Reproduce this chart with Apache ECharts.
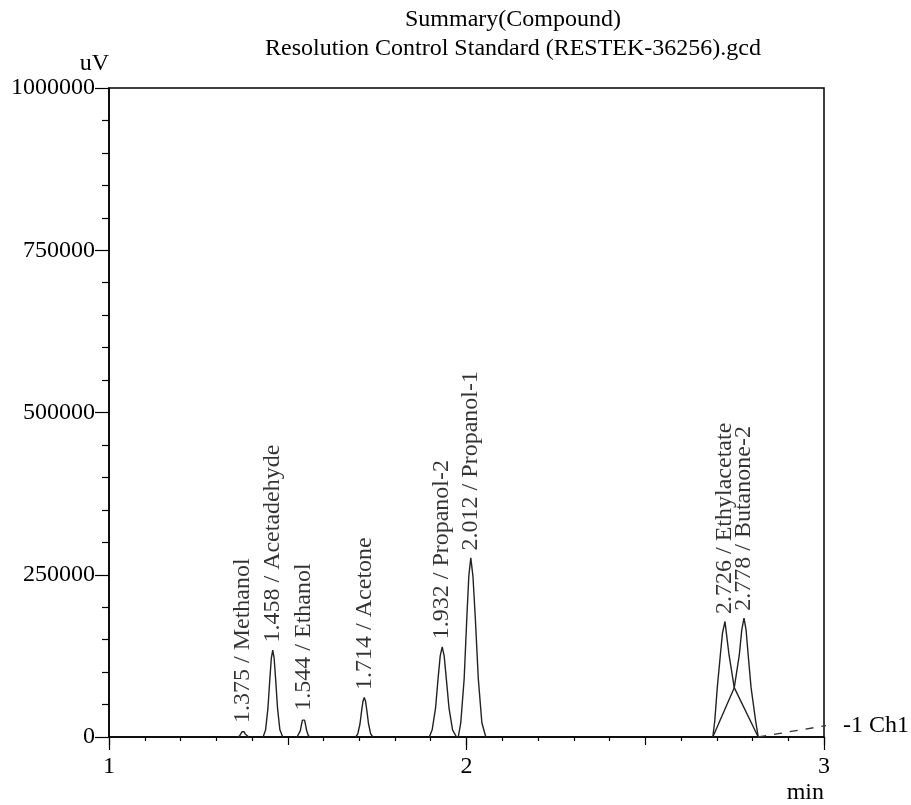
<!DOCTYPE html>
<html>
<head>
<meta charset="utf-8">
<script src="https://cdn.jsdelivr.net/npm/echarts@6/dist/echarts.min.js"></script>
<style>html,body{margin:0;padding:0;background:#fff}#c{width:911px;height:805px}</style>
</head>
<body>
<div id="c"></div>
<script>
// ---- data ----
const titleLines = ['Summary(Compound)', 'Resolution Control Standard (RESTEK-36256).gcd'];
const yTicks = [0, 250000, 500000, 750000, 1000000];
const xTicks = [1, 2, 3];

const peakTimes   = [1.375, 1.458, 1.544, 1.714, 1.932, 2.012, 2.7231, 2.7762];
const peakHeights = [10000, 134000, 29000, 61000, 139000, 276000, 178000, 183000];
const peakNames   = ['1.375 / Methanol', '1.458 / Acetadehyde', '1.544 / Ethanol', '1.714 / Acetone',
                     '1.932 / Propanol-2', '2.012 / Propanol-1', '2.726 / Ethylacetate', '2.778 / Butanone-2'];

const methanol = [[1.359,0],[1.365,1500],[1.369,4500],[1.372,8000],[1.375,10000],[1.378,8000],[1.381,4500],[1.385,1500],[1.391,0]];
const acetaldehyde = [[1.431,0],[1.438,11000],[1.4445,44000],[1.450,90000],[1.454,121000],[1.458,134000],[1.462,121000],[1.466,90000],[1.4715,44000],[1.478,11000],[1.486,0]];
const ethanol = [[1.526,0],[1.5305,2300],[1.535,9500],[1.5385,19500],[1.541,26000],[1.544,29000],[1.547,26000],[1.5495,19500],[1.553,9500],[1.5575,2300],[1.562,0]];
const acetone = [[1.690,0],[1.696,4900],[1.702,20000],[1.7068,41000],[1.7104,55000],[1.714,61000],[1.7176,55000],[1.7212,41000],[1.726,20000],[1.732,4900],[1.738,0]];
const propanol2 = [[1.896,0],[1.904,11000],[1.9135,45000],[1.921,93000],[1.9265,125000],[1.932,139000],[1.9375,125000],[1.943,93000],[1.951,45000],[1.961,11000],[1.972,0]];
const propanol1 = [[1.977,0],[1.984,22000],[1.9935,90000],[2.001,185000],[2.0065,248000],[2.012,276000],[2.018,248000],[2.0245,185000],[2.033,90000],[2.043,22000],[2.054,0]];
const ethylacetate = [[2.689,0],[2.6945,25000],[2.7015,76000],[2.710,126000],[2.716,160000],[2.7231,178000],[2.728,155000],[2.7345,126000],[2.749,76000],[2.816,0]];
const butanone = [[2.689,0],[2.749,76000],[2.763,126000],[2.770,165000],[2.7762,183000],[2.782,165000],[2.788,126000],[2.796,76000],[2.809,24000],[2.816,0]];
const channelLine = [[2.816,0],[3.022,19000]];
const channelName = '-1 Ch1';

// ---- chart ----
const FONT = 'Liberation Serif';
const traces = [methanol, acetaldehyde, ethanol, acetone, propanol2, propanol1, ethylacetate, butanone];
const series = traces.map(d => ({
  type: 'line', data: d, xAxisIndex: 0, yAxisIndex: 0, symbol: 'none', silent: true,
  lineStyle: { color: '#222', width: 1.4 }, z: 3
}));
series.push({
  type: 'line', data: channelLine, symbol: 'none', clip: false, silent: true,
  lineStyle: { color: '#333', width: 1.3, type: [8, 8] },
  endLabel: { show: true, formatter: channelName, distance: 17, fontFamily: FONT, fontSize: 24, color: '#000' }
});
series.push({
  type: 'scatter', symbolSize: 1, itemStyle: { color: 'rgba(0,0,0,0)' }, silent: true,
  data: peakTimes.map((t, i) => ({ value: [t, peakHeights[i]], name: peakNames[i] })),
  label: {
    show: true, formatter: p => p.name, position: 'top', distance: 7, rotate: 90,
    align: 'left', verticalAlign: 'middle', fontFamily: FONT, fontSize: 24, color: '#000'
  },
  labelLayout: { hideOverlap: false }, z: 5
});

const chart = echarts.init(document.getElementById('c'), null, { renderer: 'canvas' });
chart.setOption({
  animation: false,
  backgroundColor: '#fff',
  title: {
    text: titleLines.join('\n'), left: 508, top: 0, textAlign: 'center',
    textStyle: { fontFamily: FONT, fontSize: 24, fontWeight: 'normal', color: '#000', lineHeight: 29 }
  },
  grid: { left: 109, right: 87, top: 88, bottom: 66, show: true, borderColor: '#000', borderWidth: 1.5 },
  xAxis: [{
    type: 'value', position: 'bottom', min: xTicks[0], max: xTicks[xTicks.length - 1], interval: 0.5,
    axisLine: { show: true, onZero: false, lineStyle: { color: '#000', width: 1.5 } },
    axisTick: { show: true, length: 8, lineStyle: { color: '#000', width: 1.2 } },
    minorTick: { show: true, splitNumber: 5, length: 4, lineStyle: { color: '#000', width: 1.2 } },
    axisLabel: { show: false }, splitLine: { show: false }
  }, {
    type: 'value', position: 'bottom', min: xTicks[0], max: xTicks[xTicks.length - 1], interval: 1,
    axisLine: { show: false },
    axisTick: { show: true, length: 13, lineStyle: { color: '#000', width: 1.2 } },
    axisLabel: { show: true, margin: 18, fontFamily: FONT, fontSize: 24, color: '#000',
      formatter: v => xTicks.includes(v) ? String(v) : '' },
    splitLine: { show: false },
    name: 'min', nameLocation: 'end', nameGap: 0,
    nameTextStyle: { fontFamily: FONT, fontSize: 24, color: '#000', align: 'right', verticalAlign: 'top', padding: [44, 0, 0, 0] }
  }],
  yAxis: {
    type: 'value', min: yTicks[0], max: yTicks[yTicks.length - 1], interval: 250000,
    axisLine: { show: true, lineStyle: { color: '#000', width: 1.5 } },
    axisTick: { show: true, length: 14, lineStyle: { color: '#000', width: 1.2 } },
    minorTick: { show: true, splitNumber: 5, length: 7, lineStyle: { color: '#000', width: 1.2 } },
    axisLabel: { margin: 14, fontFamily: FONT, fontSize: 24, color: '#000', formatter: v => String(v) },
    splitLine: { show: false },
    name: 'uV', nameLocation: 'end', nameGap: 4,
    nameTextStyle: { fontFamily: FONT, fontSize: 24, lineHeight: 12, color: '#000', align: 'right', verticalAlign: 'bottom' }
  },
  series: series
});
</script>
</body>
</html>
